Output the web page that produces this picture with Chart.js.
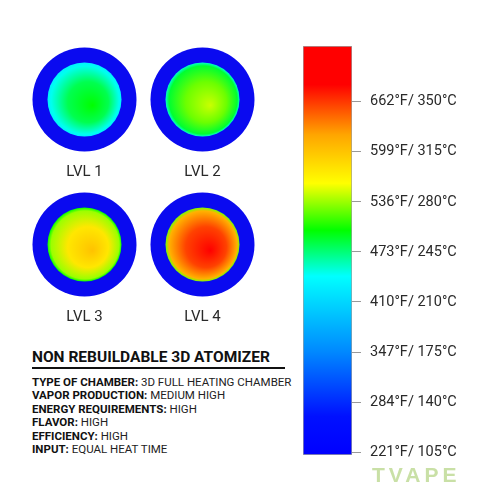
<!DOCTYPE html>
<html>
<head>
<meta charset="utf-8">
<script src="https://cdn.jsdelivr.net/npm/chart.js@4.4.1/dist/chart.umd.min.js"></script>
<style>
  html, body { margin: 0; padding: 0; background: #fff; }
  body { width: 500px; height: 500px; position: relative; overflow: hidden; font-family: Roboto, sans-serif; color: #222; }
  #discWrap { position: absolute; left: 0; top: 0; width: 290px; height: 340px; }
  #barWrap { position: absolute; left: 300px; top: 0; width: 200px; height: 500px; }
  .title { position: absolute; left: 32px; top: 350px; font-size: 15.5px; line-height: 15px; font-weight: 700; color: #111; white-space: nowrap; }
  .rule { position: absolute; left: 32px; top: 367px; width: 253px; height: 2px; background: #111; }
  .specs { position: absolute; left: 32px; top: 376px; font-size: 11.5px; line-height: 13.4px; color: #222; white-space: nowrap; }
  .specs b { font-weight: 700; color: #111; }
  .logo { position: absolute; left: 372px; top: 463px; font-family: "Liberation Sans", sans-serif; font-size: 21px; font-weight: 700; letter-spacing: 4px; color: #c9e0a6; }
</style>
</head>
<body>
<div id="discWrap"><canvas id="discs"></canvas></div>
<div id="barWrap"><canvas id="scale"></canvas></div>
<div class="title">NON REBUILDABLE 3D ATOMIZER</div>
<div class="rule"></div>
<div class="specs" id="specs"></div>
<div class="logo">TVAPE</div>
<script>
// temperature scale ticks
const celsius = [105, 140, 175, 210, 245, 280, 315, 350];
const fahrenheit = [221, 284, 347, 410, 473, 536, 599, 662];
const scaleRange = [103, 389];

// colour map along the scale (°C -> colour)
const stopTemps = [103, 130, 175, 228, 260, 293, 327, 362, 389];
const stopColors = ['#0000ff', '#0010ff', '#0088ff', '#00ffff', '#00ff00', '#ffff00', '#ffa500', '#ff0000', '#ff0000'];

// heat level discs (°C)
const levels = ['LVL 1', 'LVL 2', 'LVL 3', 'LVL 4'];
const coreTemps = [260, 286, 316, 362];
const midTemps = [250, 274, 302, 348];
const rimTemps = [230, 254, 280, 322];
const edgeTemps = [222, 234, 260, 275];

// spec sheet
const specKeys = ['TYPE OF CHAMBER', 'VAPOR PRODUCTION', 'ENERGY REQUIREMENTS', 'FLAVOR', 'EFFICIENCY', 'INPUT'];
const specValues = ['3D FULL HEATING CHAMBER', 'MEDIUM HIGH', 'HIGH', 'HIGH', 'HIGH', 'EQUAL HEAT TIME'];

document.getElementById('specs').innerHTML = specKeys
  .map((k, i) => '<b>' + k + ':</b> ' + specValues[i])
  .join('<br>');

function hexToRgb(h) {
  return [parseInt(h.slice(1, 3), 16), parseInt(h.slice(3, 5), 16), parseInt(h.slice(5, 7), 16)];
}

function heat(t) {
  if (t <= stopTemps[0]) return stopColors[0];
  for (let i = 1; i < stopTemps.length; i++) {
    if (t <= stopTemps[i]) {
      const f = (t - stopTemps[i - 1]) / (stopTemps[i] - stopTemps[i - 1]);
      const a = hexToRgb(stopColors[i - 1]);
      const b = hexToRgb(stopColors[i]);
      const c = a.map((v, k) => Math.round(v + (b[k] - v) * f));
      return 'rgb(' + c.join(',') + ')';
    }
  }
  return stopColors[stopColors.length - 1];
}

// colour bar
new Chart(document.getElementById('scale'), {
  type: 'bar',
  data: {
    labels: ['scale'],
    datasets: [{
      data: [scaleRange],
      backgroundColor: (ctx) => {
        const chart = ctx.chart;
        if (!chart.chartArea) return null;
        const y = chart.scales.y;
        const y0 = y.getPixelForValue(scaleRange[0]);
        const y1 = y.getPixelForValue(scaleRange[1]);
        const g = chart.ctx.createLinearGradient(0, y0, 0, y1);
        stopTemps.forEach((t, i) => {
          g.addColorStop((t - scaleRange[0]) / (scaleRange[1] - scaleRange[0]), stopColors[i]);
        });
        return g;
      },
      borderColor: '#a0a0a0',
      borderWidth: 1,
      borderSkipped: false,
      categoryPercentage: 1,
      barPercentage: 1
    }]
  },
  options: {
    responsive: true,
    maintainAspectRatio: false,
    animation: false,
    events: [],
    layout: { padding: { left: 3, top: 46, bottom: 45, right: 0 } },
    plugins: { legend: { display: false }, tooltip: { enabled: false } },
    scales: {
      x: { display: false },
      y: {
        position: 'right',
        min: scaleRange[0],
        max: scaleRange[1],
        afterBuildTicks: (axis) => { axis.ticks = celsius.map(v => ({ value: v })); },
        afterFit: (axis) => { axis.width = 148; },
        border: { display: false },
        grid: { drawOnChartArea: false, drawTicks: true, tickLength: 9, color: '#999', lineWidth: 1 },
        ticks: {
          padding: 9,
          color: '#2a2a2a',
          font: { family: 'Roboto', size: 14.5 },
          callback: (v) => fahrenheit[celsius.indexOf(v)] + '°F/ ' + v + '°C'
        }
      }
    }
  }
});

// disc labels
const discLabels = {
  id: 'discLabels',
  afterDraw(chart) {
    const c = chart.ctx;
    c.save();
    c.font = '15px Roboto';
    c.fillStyle = '#2a2a2a';
    c.textAlign = 'center';
    c.textBaseline = 'middle';
    levels.forEach((l, i) => {
      const x = chart.scales.x.getPixelForValue(i % 2);
      const y = chart.scales.y.getPixelForValue(Math.floor(i / 2));
      c.fillText(l, x, y + 73);
    });
    c.restore();
  }
};

const gridPoints = levels.map((l, i) => ({ x: i % 2, y: Math.floor(i / 2) }));

new Chart(document.getElementById('discs'), {
  type: 'bubble',
  data: {
    datasets: [
      {
        order: 0,
        data: gridPoints.map(p => ({ x: p.x, y: p.y, r: 37 })),
        borderWidth: 0,
        clip: false,
        backgroundColor: (ctx) => {
          const chart = ctx.chart;
          if (!chart.chartArea || ctx.dataIndex === undefined) return null;
          const i = ctx.dataIndex;
          const cx = chart.scales.x.getPixelForValue(i % 2);
          const cy = chart.scales.y.getPixelForValue(Math.floor(i / 2));
          const g = chart.ctx.createRadialGradient(cx + 8, cy + 6, 0, cx, cy, 37);
          g.addColorStop(0, heat(coreTemps[i]));
          g.addColorStop(0.55, heat(midTemps[i]));
          g.addColorStop(0.92, heat(rimTemps[i]));
          g.addColorStop(1, heat(edgeTemps[i]));
          return g;
        }
      },
      {
        order: 1,
        data: gridPoints.map(p => ({ x: p.x, y: p.y, r: 52 })),
        borderWidth: 0,
        clip: false,
        backgroundColor: '#0a0af0'
      }
    ]
  },
  options: {
    responsive: true,
    maintainAspectRatio: false,
    animation: false,
    events: [],
    layout: { autoPadding: false, padding: { left: 25.5, right: 28.5, top: 27, bottom: 23 } },
    plugins: { legend: { display: false }, tooltip: { enabled: false } },
    scales: {
      x: { display: false, min: -0.5, max: 1.5 },
      y: { display: false, min: -0.5, max: 1.5, reverse: true }
    }
  },
  plugins: [discLabels]
});
</script>
</body>
</html>
